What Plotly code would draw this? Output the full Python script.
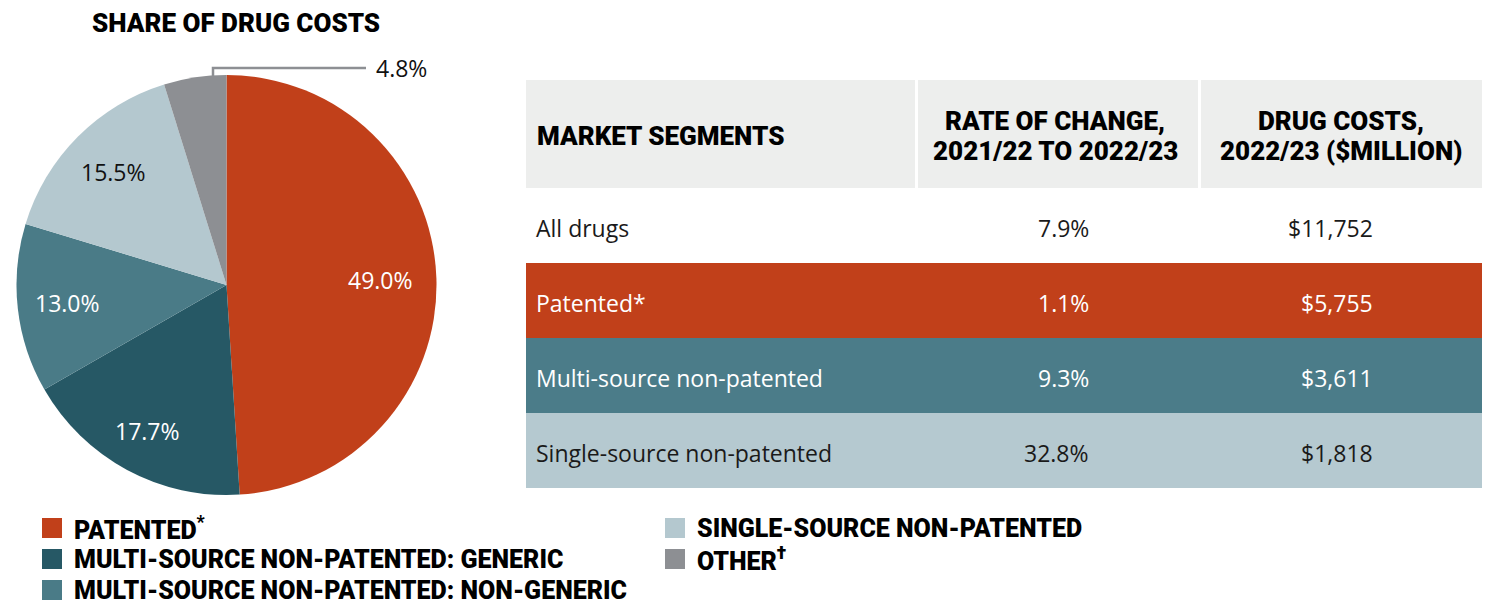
import math
import plotly.graph_objects as go

W, H = 1500, 614

# ---------------- data ----------------
pie_labels = ["Patented*", "Multi-source non-patented: generic",
              "Multi-source non-patented: non-generic",
              "Single-source non-patented", "Other†"]
pie_shares = [49.0, 17.7, 13.0, 15.5, 4.8]
pie_colors = ["#C1401A", "#265865", "#4A7B87", "#B4C8CF", "#8D8F93"]
pie_text_colors = ["#FFFFFF", "#FFFFFF", "#FFFFFF", "#111111", "#111111"]

legend_labels = ["PATENTED<sup>*</sup>", "MULTI-SOURCE NON-PATENTED: GENERIC",
                 "MULTI-SOURCE NON-PATENTED: NON-GENERIC",
                 "SINGLE-SOURCE NON-PATENTED", "OTHER<sup>†</sup>"]

table_headers = [["MARKET SEGMENTS"],
                 ["RATE OF CHANGE,", "2021/22 TO 2022/23"],
                 ["DRUG COSTS,", "2022/23 ($MILLION)"]]
segments = ["All drugs", "Patented*", "Multi-source non-patented",
            "Single-source non-patented"]
rate_of_change = [7.9, 1.1, 9.3, 32.8]          # %
drug_costs = [11752, 5755, 3611, 1818]         # $ million
row_fills = ["#FFFFFF", "#C1401A", "#4B7C89", "#B5C9D0"]
row_text_colors = ["#1A1A1A", "#FFFFFF", "#FFFFFF", "#1A1A1A"]

# ---------------- layout constants (pixels) ----------------
HEAVY = "Roboto"
BODY = "Open Sans"
PIE_L, PIE_R, PIE_T, PIE_B = 16, 437, 75, 495
PIE_CX, PIE_CY = (PIE_L + PIE_R) / 2, (PIE_T + PIE_B) / 2
PIE_RAD = (PIE_R - PIE_L) / 2
LABEL_RF = [0.73, 0.79, 0.76, 0.76]   # label distance from centre, fraction of radius


def px(x):
    return x / W


def py(y):
    return 1 - y / H


fig = go.Figure()

# ---------------- pie ----------------
pie_text = [f"{v:.1f}%" for v in pie_shares]
fig.add_trace(go.Pie(
    labels=pie_labels, values=pie_shares, sort=False,
    direction="clockwise", rotation=0,
    marker=dict(colors=pie_colors, line=dict(width=0)),
    textinfo="none",
    domain=dict(x=[px(PIE_L), px(PIE_R)], y=[py(PIE_B), py(PIE_T)]),
    showlegend=False, hoverinfo="label+percent",
))

shapes = []
annotations = []

# slice labels, placed along each slice's mid-angle
total = sum(pie_shares)
cum = 0.0
for i, (v, t, c) in enumerate(zip(pie_shares, pie_text, pie_text_colors)):
    mid = (cum + v / 2) / total * 2 * math.pi
    cum += v
    if i >= len(LABEL_RF):
        continue
    lx = PIE_CX + LABEL_RF[i] * PIE_RAD * math.sin(mid)
    ly = PIE_CY - LABEL_RF[i] * PIE_RAD * math.cos(mid)
    annotations.append(dict(x=px(lx), y=py(ly), xref="paper", yref="paper", text=t,
                            showarrow=False, xanchor="center", yanchor="middle",
                            font=dict(family=BODY, size=23, color=c)))

# title
annotations.append(dict(x=px(236), y=py(23), xref="paper", yref="paper",
                        text="SHARE OF DRUG COSTS", showarrow=False,
                        xanchor="center", yanchor="middle",
                        font=dict(family=HEAVY, size=26, color="#000", weight=900)))

# leader line for the small "Other" slice
shapes.append(dict(type="path", xref="paper", yref="paper",
                   path=f"M {px(213)},{py(76)} L {px(213)},{py(68)} L {px(366)},{py(68)}",
                   line=dict(color="#8D8F93", width=2.5)))
annotations.append(dict(x=px(374), y=py(68), xref="paper", yref="paper",
                        text=pie_text[-1], showarrow=False,
                        xanchor="left", yanchor="middle",
                        font=dict(family=BODY, size=23, color="#111")))

# ---------------- legend ----------------
leg_pos = [(42, 528), (42, 559), (42, 590), (665, 528), (665, 559)]
for (lx, ly), lab, col in zip(leg_pos, legend_labels, pie_colors):
    shapes.append(dict(type="rect", xref="paper", yref="paper",
                       x0=px(lx), x1=px(lx + 20), y0=py(ly + 10), y1=py(ly - 10),
                       fillcolor=col, line=dict(width=0)))
    annotations.append(dict(x=px(lx + 30), y=py(ly), xref="paper", yref="paper",
                            text=lab, showarrow=False, xanchor="left", yanchor="middle",
                            font=dict(family=HEAVY, size=25, color="#000", weight=900)))

# ---------------- table ----------------
T_LEFT, T_RIGHT = 526, 1482
HDR_TOP, HDR_BOT = 80, 188
ROW_H = 75
hdr_cells = [(526, 915), (918, 1198), (1201, 1482)]
for x0, x1 in hdr_cells:
    shapes.append(dict(type="rect", xref="paper", yref="paper",
                       x0=px(x0), x1=px(x1), y0=py(HDR_BOT), y1=py(HDR_TOP),
                       fillcolor="#EDEEED", line=dict(width=0), layer="below"))
hdr_x = [535, 1055, 1341]
hdr_anchor = ["left", "center", "center"]
LINE_GAP = 30
for hx, ha, lines in zip(hdr_x, hdr_anchor, table_headers):
    n = len(lines)
    for k, txt in enumerate(lines):
        yy = (HDR_TOP + HDR_BOT) / 2 + 2 + (k - (n - 1) / 2) * LINE_GAP
        annotations.append(dict(x=px(hx), y=py(yy), xref="paper", yref="paper",
                                text=txt, showarrow=False, xanchor=ha, yanchor="middle",
                                font=dict(family=HEAVY, size=26, color="#000", weight=900)))

for i, (seg, rate, cost, fill, tc) in enumerate(zip(segments, rate_of_change, drug_costs,
                                                    row_fills, row_text_colors)):
    top = HDR_BOT + i * ROW_H
    bot = top + ROW_H
    mid = (top + bot) / 2 + 2
    shapes.append(dict(type="rect", xref="paper", yref="paper",
                       x0=px(T_LEFT), x1=px(T_RIGHT), y0=py(bot), y1=py(top),
                       fillcolor=fill, line=dict(width=0), layer="below"))
    f = dict(family=BODY, size=23, color=tc)
    annotations.append(dict(x=px(534), y=py(mid), xref="paper", yref="paper", text=seg,
                            showarrow=False, xanchor="left", yanchor="middle", font=f))
    annotations.append(dict(x=px(1091), y=py(mid), xref="paper", yref="paper",
                            text=f"{rate:.1f}%", showarrow=False, xanchor="right",
                            yanchor="middle", font=f))
    annotations.append(dict(x=px(1375), y=py(mid), xref="paper", yref="paper",
                            text=f"${cost:,}", showarrow=False, xanchor="right",
                            yanchor="middle", font=f))

fig.update_layout(
    width=W, height=H, margin=dict(l=0, r=0, t=0, b=0),
    paper_bgcolor="#FFFFFF", plot_bgcolor="#FFFFFF",
    shapes=shapes, annotations=annotations, showlegend=False,
)

fig.write_html("out.html", config={"displayModeBar": False},
               post_script="document.body.style.margin='0';document.body.style.overflow='hidden';")
